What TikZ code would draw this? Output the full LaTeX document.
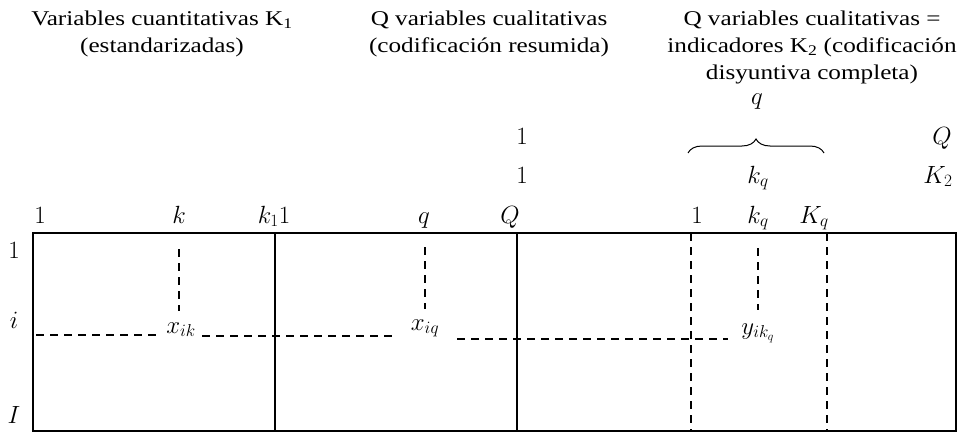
\documentclass[tikz,border=0pt]{standalone}
\usepackage{fontspec}
\setmainfont[FakeStretch=1.2]{Liberation Serif}
\usetikzlibrary{decorations.pathreplacing}
\begin{document}
\begin{tikzpicture}[x=1pt,y=-1pt,
  titletext/.style={align=center,anchor=north,font=\fontsize{21}{27}\selectfont,inner sep=0pt},
  lab/.style={anchor=base,font=\fontsize{24}{28}\selectfont,inner sep=0pt},
  frame/.style={line width=1.6pt},
  dashline/.style={line width=1.6pt,dash pattern=on 8pt off 6pt}]
\useasboundingbox (0,0) rectangle (960,433);
% titles
\node[titletext] (t1) at (162,11) {Variables cuantitativas K\textsubscript{1}\\(estandarizadas)};
\node[titletext] (t2) at (489,11) {Q variables cualitativas\\(codificación resumida)};
\node[titletext] (t3) at (812,11) {Q variables cualitativas =\\indicadores K\textsubscript{2} (codificación\\disyuntiva completa)};
% frame
\coordinate (tl) at (33,233);
\coordinate (br) at (956,431);
\draw[frame] (tl) rectangle (br);
\coordinate (v1t) at (275,233); \coordinate (v1b) at (275,431);
\coordinate (v2t) at (517,233); \coordinate (v2b) at (517,431);
\draw[frame] (v1t) -- (v1b);
\draw[frame] (v2t) -- (v2b);
\coordinate (d1t) at (691,233); \coordinate (d1b) at (691,431);
\coordinate (d2t) at (827,233); \coordinate (d2b) at (827,431);
\draw[dashline] (d1t) -- (d1b);
\draw[dashline] (d2t) -- (d2b);
% row labels
\node[lab] (r1) at (14,258) {$1$};
\node[lab] (ri) at (14,328) {$i$};
\node[lab] (rI) at (14,423) {$I$};
% column labels
\node[lab] (c1) at (40,223) {$1$};
\node[lab] (ck) at (179,223) {$k$};
\node[lab] (ck1) at (274,223) {$k_1 1$};
\node[lab] (cq) at (424,223) {$q$};
\node[lab] (cQ) at (510,223) {$Q$};
\node[lab] (d1) at (697,223) {$1$};
\node[lab] (dkq) at (758,223) {$k_q$};
\node[lab] (dKq) at (814,223) {$K_q$};
\node[lab] (m1) at (522,183) {$1$};
\node[lab] (mm1) at (522,144) {$1$};
\node[lab] (ekq) at (758,183) {$k_q$};
\node[lab] (eK2) at (938,183) {$K_2$};
\node[lab] (eQ) at (942,144) {$Q$};
\node[lab] (eq) at (757,105) {$q$};
% brace
\coordinate (bl) at (688,153);
\coordinate (brr) at (824,153);
\draw[line width=1pt,decorate,decoration={brace,amplitude=14pt}] (bl) -- (brr);
% cells
\node[lab] (xik) at (181,333) {$x_{ik}$};
\node[lab] (xiq) at (425,330) {$x_{iq}$};
\node[lab] (yik) at (758,334) {$y_{ik_q}$};
\coordinate (a1) at (179,249); \coordinate (a2) at (179,311);
\draw[dashline] (a1) -- (a2);
\coordinate (b1) at (425,247); \coordinate (b2) at (425,309);
\draw[dashline] (b1) -- (b2);
\coordinate (c1t) at (758,248); \coordinate (c2t) at (758,310);
\draw[dashline] (c1t) -- (c2t);
\coordinate (h1a) at (36,335); \coordinate (h1b) at (157,335);
\draw[dashline] (h1a) -- (h1b);
\coordinate (h2a) at (202,336); \coordinate (h2b) at (392,336);
\draw[dashline] (h2a) -- (h2b);
\coordinate (h3a) at (457,339); \coordinate (h3b) at (728,339);
\draw[dashline] (h3a) -- (h3b);
\end{tikzpicture}
\end{document}
